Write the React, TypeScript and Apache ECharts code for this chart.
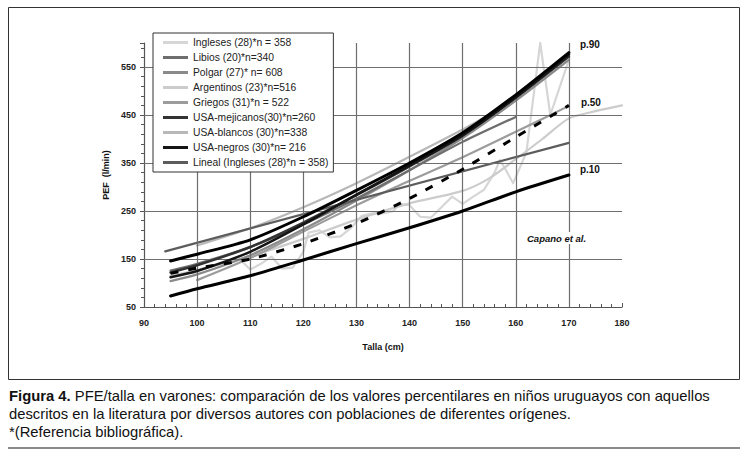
import React, { useEffect, useRef } from 'react';
import * as echarts from 'echarts';

// ---- axes / grid ----
const xMin = 90;
const xMax = 180;
const xInterval = 10;
const yMin = 50;
const yMax = 600;
const yInterval = 100;
const xGridValues = [100, 110, 120, 130, 140, 150, 160, 170];
const yGridValues = [150, 250, 350, 450, 550];

// ---- series (x = talla cm, y = PEF l/min) ----
const ingleses = [
  [108, 150], [110, 128], [112, 140], [114, 155], [116, 130], [118, 132], [120, 165], [121, 205],
  [123, 210], [125, 195], [127, 197], [129, 215], [131, 240], [133, 245], [135, 245], [137, 250],
  [138, 265], [140, 262], [142, 238], [144, 236], [146, 258], [148, 280], [150, 265], [152, 280],
  [154, 294], [156, 330], [157, 356], [158, 338], [159.5, 308], [162, 372], [164.6, 600],
  [166.5, 450], [170, 565],
];
const libios = [[95, 126], [100, 140], [110, 175], [120, 222], [130, 276], [140, 335], [150, 394], [160, 446]];
const polgar = [[95, 104], [100, 118], [110, 158], [120, 212], [130, 272], [140, 335], [150, 402], [160, 480], [170, 565]];
const argentinos = [
  [95, 115], [100, 127], [110, 156], [120, 192], [130, 232], [140, 266], [150, 292], [155, 318],
  [160, 358], [165, 400], [170, 443], [175, 458], [180, 470],
];
const griegos = [[100, 106], [110, 152], [120, 207], [130, 262], [137, 298], [150, 362], [160, 415], [170, 469]];
const usaMejicanos = [[95, 122], [100, 137], [110, 175], [120, 226], [130, 283], [140, 343], [150, 407], [160, 486], [170, 572]];
const usaBlancos = [[100, 178], [110, 214], [120, 258], [130, 308], [140, 363], [150, 420], [155, 450]];
const usaNegros = [[95, 112], [100, 125], [110, 165], [120, 222], [130, 284], [140, 345], [150, 408], [160, 487], [170, 576]];
const lineal = [[94, 166], [170, 392]];

const p10 = [[95, 73], [100, 88], [110, 115], [120, 148], [130, 182], [140, 215], [150, 250], [160, 290], [170, 325]];
const p50 = [[95, 120], [100, 131], [110, 150], [120, 182], [130, 224], [140, 276], [150, 337], [160, 404], [170, 470]];
const p90 = [[95, 146], [100, 160], [110, 190], [120, 238], [130, 293], [140, 350], [150, 413], [160, 492], [170, 580]];

const legendNames = [
  'Ingleses (28)*n = 358',
  'Libios (20)*n=340',
  'Polgar (27)* n= 608',
  'Argentinos (23)*n=516',
  'Griegos (31)*n = 522',
  'USA-mejicanos(30)*n=260',
  'USA-blancos (30)*n=338',
  'USA-negros (30)*n= 216',
  'Lineal (Ingleses (28)*n = 358)',
];

const captionLines = [
  'PFE/talla en varones: comparación de los valores percentilares en niños uruguayos con aquellos',
  'descritos en la literatura por diversos autores con poblaciones de diferentes orígenes.',
  '*(Referencia bibliográfica).',
];

const FONT = '"Liberation Sans", Arial, sans-serif';

function mkLine(name: string, data: number[][], color: string, width: number, z: number, extra: any = {}) {
  return {
    type: 'line',
    name,
    data,
    symbol: 'none',
    showSymbol: false,
    silent: true,
    z,
    smooth: 0.25,
    lineStyle: { color, width, cap: 'round', join: 'round' },
    itemStyle: { color },
    ...extra,
  };
}

function endLabel(text: string, offset: number[]) {
  return {
    endLabel: {
      show: true,
      formatter: text,
      offset,
      color: '#111',
      fontSize: 10,
      fontWeight: 'bold',
      fontFamily: FONT,
    },
  };
}

export default function App() {
  const ref = useRef<HTMLDivElement>(null);

  useEffect(() => {
    if (!ref.current) return;
    const chart = echarts.init(ref.current, undefined, { renderer: 'svg' });

    const gridColor = '#6e6e6e';
    const option: any = {
      animation: false,
      backgroundColor: '#fff',
      grid: { left: 144, right: 129, top: 43, bottom: 147, containLabel: false },
      legend: {
        data: legendNames,
        orient: 'vertical',
        left: 153,
        top: 33,
        padding: [4, 5, 4, 10],
        itemWidth: 25,
        itemHeight: 3,
        itemGap: 4,
        icon: 'rect',
        selectedMode: false,
        backgroundColor: '#fff',
        borderColor: '#333',
        borderWidth: 1,
        borderRadius: 0,
        textStyle: { fontSize: 10.3, lineHeight: 11, color: '#222', fontFamily: FONT },
        z: 10,
      },
      xAxis: {
        type: 'value',
        min: xMin,
        max: xMax,
        interval: xInterval,
        name: 'Talla (cm)',
        nameLocation: 'middle',
        nameGap: 35,
        nameTextStyle: { fontSize: 9, fontWeight: 'bold', color: '#111', fontFamily: FONT },
        axisLine: { show: true, lineStyle: { color: '#555', width: 1.2 } },
        axisTick: { show: true, inside: true, length: 4, lineStyle: { color: '#555' } },
        minorTick: { show: true, splitNumber: 5, length: 3, lineStyle: { color: '#555' } },
        axisLabel: { fontSize: 9, fontWeight: 'bold', color: '#222', margin: 11, fontFamily: FONT },
        splitLine: { show: false },
      },
      yAxis: {
        type: 'value',
        min: yMin,
        max: yMax,
        interval: yInterval,
        name: 'PEF  (l/min)',
        nameLocation: 'middle',
        nameGap: 26,
        nameRotate: 90,
        nameTextStyle: { fontSize: 9, fontWeight: 'bold', color: '#111', fontFamily: FONT },
        axisLine: { show: true, lineStyle: { color: '#555', width: 1.2 } },
        axisTick: { show: true, inside: false, length: 4, lineStyle: { color: '#555' } },
        minorTick: { show: true, splitNumber: 5, length: 3, lineStyle: { color: '#555' } },
        axisLabel: {
          fontSize: 9,
          fontWeight: 'bold',
          color: '#222',
          margin: 8,
          fontFamily: FONT,
          formatter: (v: number) => (v === yMax ? '' : String(v)),
        },
        splitLine: { show: false },
      },
      series: [
        {
          type: 'line',
          name: '__grid',
          data: [],
          silent: true,
          z: 1,
          markLine: {
            silent: true,
            symbol: ['none', 'none'],
            label: { show: false },
            lineStyle: { color: gridColor, width: 1.2, type: 'solid' },
            data: [
              ...xGridValues.map((v) => ({ xAxis: v })),
              ...yGridValues.map((v) => ({ yAxis: v })),
            ],
          },
        },
        mkLine(legendNames[0], ingleses, '#d6d6d6', 2.2, 2, { smooth: false }),
        mkLine(legendNames[3], argentinos, '#cccccc', 2.2, 2),
        mkLine(legendNames[6], usaBlancos, '#b8b8b8', 2.2, 3),
        mkLine(legendNames[4], griegos, '#9c9c9c', 2.2, 3),
        mkLine(legendNames[2], polgar, '#8a8a8a', 2.2, 3),
        mkLine(legendNames[1], libios, '#6e6e6e', 2.2, 4),
        mkLine(legendNames[8], lineal, '#5c5c5c', 2.2, 4, { smooth: false }),
        mkLine(legendNames[5], usaMejicanos, '#333333', 2.5, 5),
        mkLine(legendNames[7], usaNegros, '#151515', 2.5, 5),
        mkLine('p.10', p10, '#000', 3, 6, endLabel('p.10', [3, -6])),
        mkLine('p.50', p50, '#000', 3, 6, {
          ...endLabel('p.50', [4, -3]),
          lineStyle: { color: '#000', width: 3, type: [8, 10] },
        }),
        mkLine('p.90', p90, '#000', 3, 6, endLabel('p.90', [3, -8])),
      ],
      graphic: [
        {
          type: 'rect',
          shape: { x: 8.5, y: 7.5, width: 731, height: 372 },
          style: { fill: 'none', stroke: '#333', lineWidth: 1 },
          silent: true,
          z: 0,
        },
        {
          type: 'text',
          x: 525,
          y: 238,
          z: 20,
          style: {
            text: 'Capano et al.',
            fontSize: 9.5,
            fontStyle: 'italic',
            fontWeight: 'bold',
            fill: '#111',
            fontFamily: FONT,
            verticalAlign: 'middle',
            backgroundColor: '#fff',
            padding: [1, 2],
          },
          silent: true,
        },
        {
          type: 'text',
          x: 9,
          y: 396,
          style: {
            text: '{b|Figura 4.} ' + captionLines[0],
            fontSize: 14.8,
            fill: '#111',
            fontFamily: FONT,
            verticalAlign: 'middle',
            rich: { b: { fontWeight: 'bold', fontSize: 14.8, fontFamily: FONT, fill: '#111' } },
          },
          silent: true,
        },
        {
          type: 'text',
          x: 9,
          y: 414,
          style: { text: captionLines[1], fontSize: 14.8, fill: '#111', fontFamily: FONT, verticalAlign: 'middle' },
          silent: true,
        },
        {
          type: 'text',
          x: 9,
          y: 432,
          style: { text: captionLines[2], fontSize: 14.8, fill: '#111', fontFamily: FONT, verticalAlign: 'middle' },
          silent: true,
        },
        {
          type: 'line',
          shape: { x1: 8, y1: 448, x2: 740, y2: 448 },
          style: { stroke: '#8a8a8a', lineWidth: 2 },
          silent: true,
        },
      ],
    };

    chart.setOption(option);
    return () => chart.dispose();
  }, []);

  return (
    <div
      ref={ref}
      style={{ position: 'absolute', left: 0, top: 0, width: 751, height: 454, background: '#fff' }}
    />
  );
}
